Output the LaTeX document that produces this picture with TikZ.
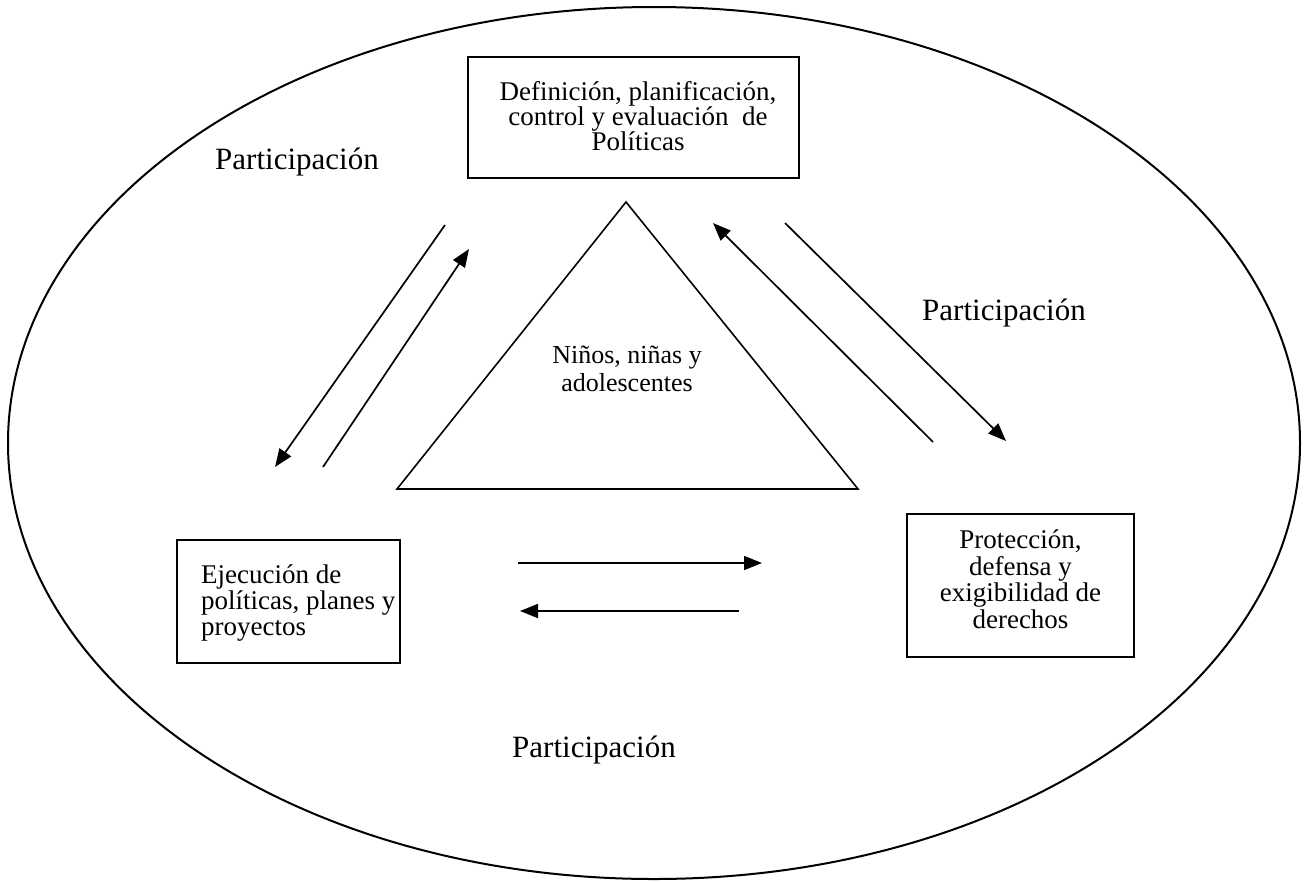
\documentclass[tikz,border=0pt]{standalone}
\usepackage{fontspec}
\setmainfont{Liberation Serif}
\usetikzlibrary{arrows.meta}
\begin{document}
\begin{tikzpicture}[x=1pt,y=-1pt,
  box/.style={draw,line width=1.8pt,inner sep=0pt},
  boxtext/.style={inner sep=0pt,anchor=base,font=\fontsize{27}{#1}\selectfont},
  lbl/.style={font=\fontsize{31}{31}\selectfont,anchor=base west,inner sep=0pt},
  arr/.style={line width=1.7pt,-{Triangle[length=18pt,width=14pt]}}]
\useasboundingbox (0,0) rectangle (1305,881);
% outer ellipse
\draw[line width=2pt] (654,443) ellipse [x radius=646, y radius=436];
% boxes
\node[box,minimum width=331pt,minimum height=121pt] (def) at (633.5,117.5) {};
\node[boxtext=25,align=center] (deft) at (638,150)
  {Definición, planificación,\\control y evaluación~ de\\Políticas};
\node[box,minimum width=223pt,minimum height=123pt] (eje) at (288.5,601.5) {};
\node[boxtext=26,align=left,anchor=base west] (ejet) at (201,635)
  {Ejecución de\\políticas, planes y\\proyectos};
\node[box,minimum width=227pt,minimum height=143pt] (pro) at (1020.5,585.5) {};
\node[boxtext=26.5,align=center] (prot) at (1020.5,628)
  {Protección,\\defensa y\\exigibilidad de\\derechos};
% triangle
\coordinate (ta) at (626,202);
\coordinate (tl) at (397,489);
\coordinate (tr) at (858,489);
\draw[line width=1.6pt] (ta) -- (tl) -- (tr) -- cycle;
\node[font=\fontsize{26}{28.5}\selectfont,align=center] (nna) at (627,369) {Niños, niñas y\\adolescentes};
% labels
\node[lbl] (p1) at (215,169) {Participación};
\node[lbl] (p2) at (922,320) {Participación};
\node[lbl] (p3) at (512,757) {Participación};
% arrows left pair
\coordinate (a1s) at (445,225); \coordinate (a1e) at (275,467);
\coordinate (a2s) at (323,467); \coordinate (a2e) at (469,249);
\draw[arr] (a1s) -- (a1e);
\draw[arr] (a2s) -- (a2e);
% arrows right pair
\coordinate (b1s) at (933,442); \coordinate (b1e) at (713,223);
\coordinate (b2s) at (785,223); \coordinate (b2e) at (1006,441);
\draw[arr] (b1s) -- (b1e);
\draw[arr] (b2s) -- (b2e);
% horizontal arrows
\coordinate (c1s) at (518,563); \coordinate (c1e) at (762,563);
\coordinate (c2s) at (739,611); \coordinate (c2e) at (520,611);
\draw[arr] (c1s) -- (c1e);
\draw[arr] (c2s) -- (c2e);
\end{tikzpicture}
\end{document}
